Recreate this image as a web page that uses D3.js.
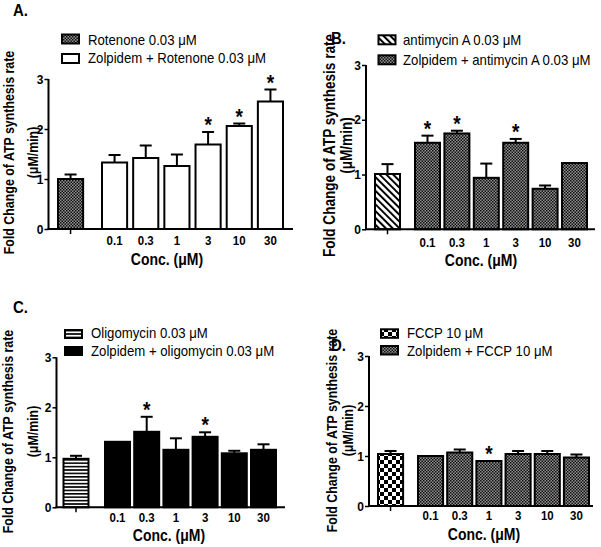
<!DOCTYPE html>
<html><head><meta charset="utf-8">
<script src="https://cdn.jsdelivr.net/npm/d3@7"></script>
<style>html,body{margin:0;padding:0;background:#fff;}svg{display:block;}</style>
</head><body>
<svg id="chart" width="601" height="547"></svg>
<script>
// ---------- DATA ----------
const concLabels = ["0.1", "0.3", "1", "3", "10", "30"];
const yTickValues = [0, 1, 2, 3];
const xTitle = "Conc. (\u03bcM)";
const yTitle1 = "Fold Change of ATP synthesis rate";
const yTitle2 = "(\u03bcM/min)";

// Panel A: rotenone (first value = control, then zolpidem concentrations)
const rotenoneMeans = [1.00, 1.33, 1.42, 1.26, 1.69, 2.06, 2.55];
const rotenoneErrs  = [0.09, 0.15, 0.25, 0.23, 0.25, 0.05, 0.24];
const rotenoneSig   = [0, 0, 0, 0, 1, 1, 1];
const rotenoneLegend = ["Rotenone 0.03 \u03bcM", "Zolpidem + Rotenone 0.03 \u03bcM"];

// Panel B: antimycin A
const antimycinMeans = [1.01, 1.58, 1.75, 0.94, 1.58, 0.74, 1.21];
const antimycinErrs  = [0.18, 0.13, 0.05, 0.26, 0.07, 0.06, 0.00];
const antimycinSig   = [0, 1, 1, 0, 1, 0, 0];
const antimycinLegend = ["antimycin A 0.03 \u03bcM", "Zolpidem + antimycin  A 0.03 \u03bcM"];

// Panel C: oligomycin
const oligomycinMeans = [0.97, 1.31, 1.51, 1.15, 1.41, 1.08, 1.15];
const oligomycinErrs  = [0.06, 0.00, 0.30, 0.23, 0.09, 0.05, 0.11];
const oligomycinSig   = [0, 0, 1, 0, 1, 0, 0];
const oligomycinLegend = ["Oligomycin 0.03 \u03bcM", "Zolpidem + oligomycin 0.03 \u03bcM"];

// Panel D: FCCP
const fccpMeans = [1.04, 1.00, 1.07, 0.90, 1.04, 1.04, 0.97];
const fccpErrs  = [0.06, 0.00, 0.06, 0.00, 0.06, 0.06, 0.06];
const fccpSig   = [0, 0, 0, 1, 0, 0, 0];
const fccpLegend = ["FCCP 10 \u03bcM", "Zolpidem + FCCP 10 \u03bcM"];

// ---------- STYLE / LAYOUT ----------
const FONT = "'Liberation Sans', Arial, Helvetica, sans-serif";
const K = 1.12;   // vertical stretch of horizontal glyphs in the reference
const KR = 1.25;  // stretch of rotated title glyphs

const svg = d3.select("#chart");
const defs = svg.append("defs");

function pat(id, w, h, build, transform) {
  const p = defs.append("pattern").attr("id", id)
    .attr("patternUnits", "userSpaceOnUse").attr("width", w).attr("height", h);
  if (transform) p.attr("patternTransform", transform);
  p.append("rect").attr("width", w).attr("height", h).attr("fill", "#fff");
  build(p);
}
// fine checker (dark gray look)
pat("fine", 3, 3, p => {
  p.append("rect").attr("width", 3).attr("height", 3).attr("fill", "#8e8e8e");
  p.append("rect").attr("x", 0).attr("y", 0).attr("width", 1.5).attr("height", 1.5).attr("fill", "#111");
  p.append("rect").attr("x", 1.5).attr("y", 1.5).attr("width", 1.5).attr("height", 1.5).attr("fill", "#111");
});
// coarse checker
pat("coarse", 8, 8, p => {
  p.append("rect").attr("width", 4).attr("height", 4).attr("fill", "#000");
  p.append("rect").attr("x", 4).attr("y", 4).attr("width", 4).attr("height", 4).attr("fill", "#000");
});
// diagonal hatch "\"
pat("diag", 4.8, 4.8, p => {
  p.append("rect").attr("width", 2).attr("height", 4.8).attr("fill", "#000");
}, "rotate(-45)");
// horizontal stripes
pat("hstripe", 4, 3.4, p => {
  p.append("rect").attr("width", 4).attr("height", 1.6).attr("fill", "#000");
});

function txt(g, s, x, y, o) {
  o = o || {};
  const rot = o.rotate;
  return g.append("text")
    .attr("transform", rot ? `translate(${x},${y}) scale(${KR},1) rotate(-90)` : `translate(${x},${y}) scale(1,${K})`)
    .attr("font-family", FONT)
    .attr("font-size", o.size || 12)
    .attr("font-weight", o.weight || "normal")
    .attr("text-anchor", o.anchor || "start")
    .attr("fill", "#000")
    .text(s);
}

const panels = [
  { label: "A.", labelPos: [13, 15.5], means: rotenoneMeans, errs: rotenoneErrs, sig: rotenoneSig, legend: rotenoneLegend,
    fills: ["url(#fine)", "#fff"],
    axisX: 48.5, y0: 229, y3: 79, xEnd: 293, ctrlX: 58, barX0: 102, barX1: 283, pad: 0.194,
    tickY: 245, titleY: 265, titleX: 167, ytX: [14, 38], ytCY: 152.5, ytSize: 12.4,
    legX: 61, legY: [33.5, 53], swH: 11, legTextX: 88, legBase: [45, 63] },
  { label: "B.", labelPos: [331, 43.5], means: antimycinMeans, errs: antimycinErrs, sig: antimycinSig, legend: antimycinLegend,
    fills: ["url(#diag)", "url(#fine)"],
    axisX: 366, y0: 229.3, y3: 65, xEnd: 595, ctrlX: 375, barX0: 415, barX1: 587, pad: 0.15,
    tickY: 247, titleY: 266, titleX: 481, ytX: [335, 352], ytCY: 145.5, ytSize: 13.6,
    legX: 377.5, legY: [34.3, 54.3], swH: 11, legTextX: 403, legBase: [45, 65] },
  { label: "C.", labelPos: [13, 313], means: oligomycinMeans, errs: oligomycinErrs, sig: oligomycinSig, legend: oligomycinLegend,
    fills: ["url(#hstripe)", "#000"],
    axisX: 56.5, y0: 507.3, y3: 357.3, xEnd: 285, ctrlX: 63.5, barX0: 105, barX1: 276, pad: 0.144,
    tickY: 522, titleY: 541, titleX: 169, ytX: [13, 38], ytCY: 431.5, ytSize: 12.4,
    legX: 64, legY: [329, 346], swH: 10, legTextX: 91, legBase: [338.3, 356] },
  { label: "D.", labelPos: [331, 350.5], means: fccpMeans, errs: fccpErrs, sig: fccpSig, legend: fccpLegend,
    fills: ["url(#coarse)", "url(#fine)"],
    axisX: 369, y0: 506, y3: 356, xEnd: 593, ctrlX: 378, barX0: 418, barX1: 589, pad: 0.14,
    tickY: 520, titleY: 540, titleX: 484, ytX: [337, 353], ytCY: 430.5, ytSize: 12.4,
    legX: 380, legY: [328.3, 345], swH: 10.5, legTextX: 407, legBase: [338, 356] }
];

panels.forEach(P => {
  const g = svg.append("g");
  const y = d3.scaleLinear().domain([0, 3]).range([P.y0, P.y3]);
  const x = d3.scaleBand().domain(concLabels).range([P.barX0, P.barX1])
    .paddingInner(P.pad).paddingOuter(0);
  const bw = x.bandwidth();
  const barLeft = i => i === 0 ? P.ctrlX : x(concLabels[i - 1]);

  // bars
  P.means.forEach((m, i) => {
    const bx = barLeft(i);
    const fill = i === 0 ? P.fills[0] : P.fills[1];
    const cx = bx + bw / 2;
    if (P.errs[i] > 0) {
      g.append("line").attr("x1", cx).attr("x2", cx)
        .attr("y1", y(m)).attr("y2", y(m + P.errs[i]))
        .attr("stroke", "#000").attr("stroke-width", 2);
      g.append("line").attr("x1", cx - 6).attr("x2", cx + 6)
        .attr("y1", y(m + P.errs[i])).attr("y2", y(m + P.errs[i]))
        .attr("stroke", "#000").attr("stroke-width", 2);
    }
    g.append("rect").attr("x", bx).attr("y", y(m))
      .attr("width", bw).attr("height", y(0) - y(m))
      .attr("fill", fill).attr("stroke", "#000").attr("stroke-width", 2);
    if (P.sig[i]) {
      const top = y(m + P.errs[i]);
      txt(g, "*", cx, top, { size: 19, weight: "bold", anchor: "middle" });
    }
  });

  // y axis
  const yAxis = d3.axisLeft(y).tickValues(yTickValues).tickSize(4).tickPadding(2).tickFormat(d3.format("d"));
  const ya = g.append("g").attr("transform", `translate(${P.axisX},0)`).call(yAxis);
  ya.select(".domain").attr("stroke-width", 2).attr("d", `M0,${P.y3}V${P.y0}`);
  ya.selectAll(".tick line").attr("stroke-width", 1.5);
  ya.selectAll(".tick text").remove();
  yTickValues.forEach(v => {
    txt(g, String(v), P.axisX - 5, y(v) + 4.5, { size: 12, weight: "bold", anchor: "end" });
  });

  // x axis
  g.append("line").attr("x1", P.axisX - 1).attr("x2", P.xEnd)
    .attr("y1", P.y0).attr("y2", P.y0).attr("stroke", "#000").attr("stroke-width", 2);
  g.append("line").attr("x1", P.ctrlX + bw / 2).attr("x2", P.ctrlX + bw / 2)
    .attr("y1", P.y0).attr("y2", P.y0 + 5).attr("stroke", "#000").attr("stroke-width", 1.5);
  concLabels.forEach(c => {
    txt(g, c, x(c) + bw / 2, P.tickY, { size: 11.5, weight: "bold", anchor: "middle" });
  });
  txt(g, xTitle, P.titleX, P.titleY, { size: 14, weight: "bold", anchor: "middle" });

  // y title
  txt(g, yTitle1, P.ytX[0], P.ytCY, { size: P.ytSize, weight: "bold", anchor: "middle", rotate: true });
  txt(g, yTitle2, P.ytX[1], P.ytCY, { size: P.ytSize, weight: "bold", anchor: "middle", rotate: true });

  // legend
  [0, 1].forEach(j => {
    g.append("rect").attr("x", P.legX + 1).attr("y", P.legY[j] + 1)
      .attr("width", 17).attr("height", P.swH - 2)
      .attr("fill", P.fills[j]).attr("stroke", "#000").attr("stroke-width", 2);
    txt(g, P.legend[j], P.legTextX, P.legBase[j], { size: 13.2 });
  });

  // panel label
  txt(g, P.label, P.labelPos[0], P.labelPos[1], { size: 15, weight: "bold" });
});
</script>
</body></html>
